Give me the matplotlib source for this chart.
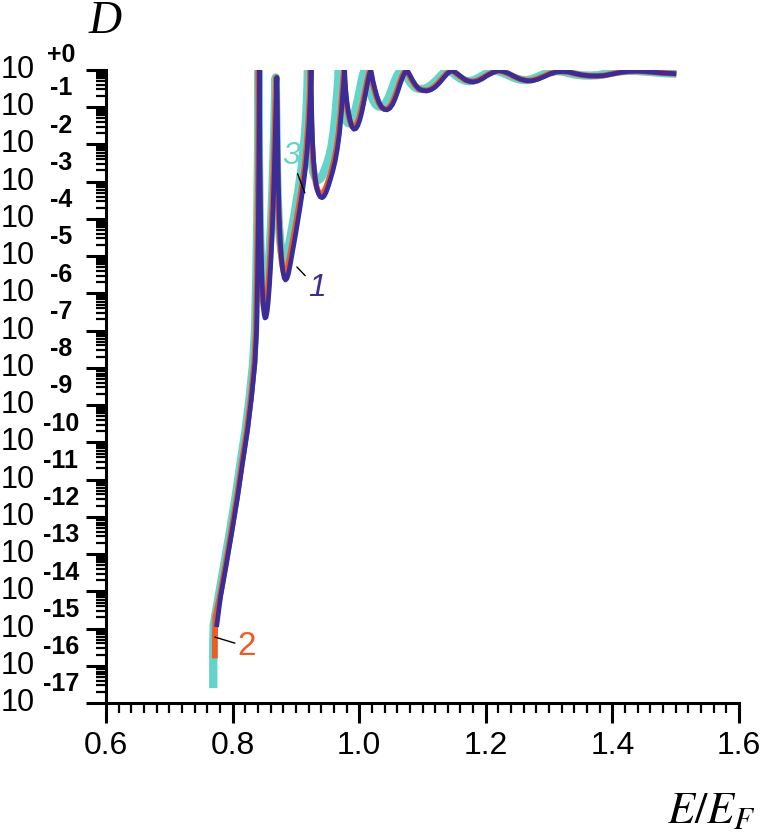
import numpy as np
import matplotlib
matplotlib.use("Agg")
import matplotlib.pyplot as plt
from matplotlib.ticker import MultipleLocator, FixedLocator, NullFormatter, FormatStrFormatter
from matplotlib.transforms import blended_transform_factory

plt.rcParams['font.family'] = ['Liberation Sans', 'DejaVu Sans']

# ---------------- data: (E/E_F, log10 D) pairs ----------------
# curve 1 (dark blue)
curve1 = np.array([
    (0.7747, -14.96), (0.7810, -14.15), (0.7905, -13.24), (0.7994, -12.35), (0.8079, -11.47), (0.8158, -10.55),
    (0.8237, -9.67), (0.8300, -8.78), (0.8353, -7.87), (0.8379, -6.98), (0.8395, -5.5), (0.8407, -4.0),
    (0.8415, -2.5), (0.8420, -1.2), (0.8422, 0.0),
    (0.8426, -1.2), (0.8432, -2.5), (0.8441, -3.8), (0.8452, -4.9), (0.8466, -5.7), (0.8482, -6.25), (0.8497, -6.55),
    (0.8512, -6.66), (0.8528, -6.64), (0.8545, -6.5), (0.8563, -6.22), (0.8582, -5.8), (0.8602, -5.2), (0.8622, -4.5),
    (0.8640, -3.7), (0.8657, -2.8), (0.8672, -1.9), (0.8685, -1.0), (0.8695, -0.4), (0.8700, -0.2),
    (0.8705, -0.8), (0.8712, -1.9), (0.8722, -3.0), (0.8736, -3.95), (0.8753, -4.6), (0.8773, -5.1), (0.8795, -5.42),
    (0.8815, -5.58), (0.8835, -5.64), (0.8858, -5.6), (0.8882, -5.47), (0.8910, -5.23), (0.8940, -4.95), (0.8970, -4.66),
    (0.9000, -4.37), (0.9030, -4.06), (0.9060, -3.75), (0.9090, -3.42), (0.9120, -3.06), (0.9150, -2.65), (0.9178, -2.15),
    (0.9205, -1.5), (0.9225, -0.8), (0.9236, -0.3), (0.9240, 0.0),
    (0.9244, -0.6), (0.9252, -1.35), (0.9264, -1.95), (0.9280, -2.45), (0.9300, -2.85), (0.9325, -3.14), (0.9355, -3.32),
    (0.9385, -3.41), (0.9415, -3.43), (0.9445, -3.39), (0.9478, -3.28), (0.9512, -3.12), (0.9548, -2.92), (0.9585, -2.7),
    (0.9620, -2.45), (0.9655, -2.12), (0.9688, -1.7), (0.9718, -1.15), (0.9742, -0.6), (0.9760, -0.2), (0.9770, 0.0),
    (0.9776, -0.25), (0.9788, -0.55), (0.9805, -0.85), (0.9828, -1.12), (0.9855, -1.35), (0.9885, -1.52), (0.9915, -1.59),
    (0.9945, -1.58), (0.9975, -1.5), (1.0008, -1.35), (1.0040, -1.14), (1.0072, -0.88), (1.0105, -0.59), (1.0135, -0.32),
    (1.0162, -0.11), (1.0183, 0.0),
    (1.0196, -0.1), (1.0218, -0.3), (1.0246, -0.5), (1.0278, -0.7), (1.0315, -0.88), (1.0355, -1.0), (1.0398, -1.06),
    (1.0440, -1.07), (1.0482, -1.03), (1.0525, -0.93), (1.0568, -0.77), (1.0610, -0.57), (1.0652, -0.35), (1.0692, -0.17),
    (1.0725, -0.06), (1.0750, -0.01),
    (1.0772, -0.05), (1.0805, -0.15), (1.0845, -0.28), (1.0892, -0.41), (1.0945, -0.51), (1.1005, -0.55), (1.1070, -0.56),
    (1.1135, -0.53), (1.1200, -0.46), (1.1265, -0.35), (1.1330, -0.22), (1.1390, -0.1), (1.1435, -0.04), (1.1465, -0.02),
    (1.1500, -0.04), (1.1550, -0.1), (1.1610, -0.18), (1.1680, -0.27), (1.1750, -0.31), (1.1810, -0.32), (1.1880, -0.29),
    (1.1950, -0.23), (1.2030, -0.14), (1.2110, -0.07), (1.2170, -0.03), (1.2220, -0.02),
    (1.2280, -0.04), (1.2360, -0.09), (1.2450, -0.17), (1.2550, -0.25), (1.2650, -0.29), (1.2730, -0.29), (1.2820, -0.25),
    (1.2920, -0.18), (1.3020, -0.1), (1.3120, -0.05), (1.3210, -0.04),
    (1.3300, -0.05), (1.3400, -0.09), (1.3510, -0.13), (1.3630, -0.155), (1.3750, -0.16), (1.3870, -0.15), (1.3990, -0.11),
    (1.4110, -0.07), (1.4240, -0.04), (1.4380, -0.03), (1.4520, -0.04), (1.4660, -0.06), (1.4800, -0.08), (1.4900, -0.09),
    (1.5010, -0.10)])

# curve 2 (orange)
curve2 = np.array([
    (0.7720, -15.8), (0.7720, -15.2), (0.7728, -14.7), (0.7797, -14.15), (0.7893, -13.24), (0.7982, -12.35),
    (0.8067, -11.47), (0.8146, -10.55), (0.8225, -9.67), (0.8289, -8.78), (0.8342, -7.87), (0.8368, -6.98),
    (0.8384, -5.5), (0.8396, -4.0), (0.8404, -2.5), (0.8409, -1.2), (0.8411, 0.0),
    (0.8415, -1.2), (0.8421, -2.5), (0.8430, -3.75), (0.8441, -4.8), (0.8455, -5.55), (0.8471, -6.05), (0.8486, -6.33),
    (0.8501, -6.45), (0.8517, -6.43), (0.8534, -6.3), (0.8552, -6.03), (0.8571, -5.62), (0.8591, -5.05), (0.8611, -4.38),
    (0.8629, -3.6), (0.8646, -2.72), (0.8661, -1.85), (0.8674, -0.98), (0.8684, -0.4), (0.8689, -0.2),
    (0.8694, -0.8), (0.8701, -1.85), (0.8711, -2.92), (0.8725, -3.85), (0.8742, -4.47), (0.8762, -4.95), (0.8784, -5.25),
    (0.8804, -5.4), (0.8824, -5.45), (0.8847, -5.41), (0.8871, -5.29), (0.8899, -5.06), (0.8929, -4.79), (0.8959, -4.51),
    (0.8989, -4.23), (0.9019, -3.93), (0.9049, -3.63), (0.9079, -3.31), (0.9109, -2.96), (0.9139, -2.57), (0.9167, -2.08),
    (0.9194, -1.45), (0.9214, -0.78), (0.9225, -0.3), (0.9229, 0.0),
    (0.9233, -0.6), (0.9241, -1.32), (0.9253, -1.9), (0.9269, -2.38), (0.9289, -2.77), (0.9314, -3.05), (0.9344, -3.23),
    (0.9374, -3.32), (0.9404, -3.34), (0.9434, -3.3), (0.9467, -3.19), (0.9501, -3.04), (0.9537, -2.85), (0.9574, -2.63),
    (0.9609, -2.38), (0.9644, -2.06), (0.9677, -1.65), (0.9707, -1.12), (0.9731, -0.58), (0.9749, -0.2), (0.9758, 0.0),
    (0.9764, -0.25), (0.9776, -0.54), (0.9793, -0.83), (0.9816, -1.09), (0.9843, -1.31), (0.9873, -1.47), (0.9903, -1.54),
    (0.9933, -1.53), (0.9963, -1.45), (0.9996, -1.31), (1.0028, -1.1), (1.0060, -0.85), (1.0093, -0.57), (1.0123, -0.31),
    (1.0150, -0.11), (1.0170, 0.0),
    (1.0183, -0.1), (1.0205, -0.3), (1.0233, -0.49), (1.0265, -0.69), (1.0302, -0.86), (1.0342, -0.98), (1.0385, -1.04),
    (1.0427, -1.05), (1.0469, -1.01), (1.0512, -0.91), (1.0555, -0.75), (1.0597, -0.56), (1.0639, -0.34), (1.0679, -0.16),
    (1.0712, -0.06), (1.0737, -0.01),
    (1.0759, -0.05), (1.0792, -0.15), (1.0832, -0.28), (1.0879, -0.4), (1.0932, -0.5), (1.0992, -0.54), (1.1057, -0.55),
    (1.1122, -0.52), (1.1187, -0.45), (1.1252, -0.34), (1.1317, -0.21), (1.1377, -0.1), (1.1422, -0.04), (1.1452, -0.02),
    (1.1487, -0.04), (1.1537, -0.1), (1.1597, -0.18), (1.1667, -0.26), (1.1737, -0.3), (1.1797, -0.31), (1.1867, -0.28),
    (1.1937, -0.22), (1.2017, -0.14), (1.2097, -0.07), (1.2157, -0.03), (1.2207, -0.02),
    (1.2267, -0.04), (1.2347, -0.09), (1.2437, -0.17), (1.2537, -0.24), (1.2637, -0.28), (1.2717, -0.28), (1.2807, -0.24),
    (1.2907, -0.17), (1.3007, -0.1), (1.3107, -0.05), (1.3197, -0.04),
    (1.3287, -0.05), (1.3387, -0.09), (1.3497, -0.13), (1.3617, -0.155), (1.3737, -0.16), (1.3857, -0.15), (1.3977, -0.11),
    (1.4097, -0.07), (1.4227, -0.04), (1.4367, -0.03), (1.4507, -0.04), (1.4647, -0.06), (1.4787, -0.08), (1.4897, -0.09),
    (1.5010, -0.10)])

# curve 3 (turquoise)
curve3 = np.array([
    (0.7695, -16.6), (0.7695, -15.4), (0.7702, -14.9), (0.7778, -14.15), (0.7873, -13.24), (0.7962, -12.35),
    (0.8047, -11.47), (0.8126, -10.55), (0.8205, -9.67), (0.8270, -8.78), (0.8325, -7.87), (0.8355, -6.98),
    (0.8375, -5.5), (0.8390, -4.0), (0.8400, -2.5), (0.8405, -1.2), (0.8407, 0.0),
    (0.8411, -1.2), (0.8417, -2.45), (0.8426, -3.6), (0.8437, -4.55), (0.8451, -5.25), (0.8467, -5.7), (0.8482, -5.95),
    (0.8497, -6.07), (0.8513, -6.06), (0.8530, -5.94), (0.8548, -5.7), (0.8567, -5.32), (0.8587, -4.8), (0.8606, -4.18),
    (0.8624, -3.45), (0.8640, -2.62), (0.8655, -1.8), (0.8667, -0.98), (0.8676, -0.4), (0.8681, -0.2),
    (0.8686, -0.8), (0.8693, -1.8), (0.8703, -2.8), (0.8717, -3.65), (0.8733, -4.2), (0.8753, -4.62), (0.8775, -4.9),
    (0.8795, -5.05), (0.8815, -5.1), (0.8838, -5.06), (0.8862, -4.94), (0.8889, -4.72), (0.8918, -4.46), (0.8947, -4.18),
    (0.8976, -3.9), (0.9005, -3.6), (0.9034, -3.29), (0.9063, -2.96), (0.9092, -2.6), (0.9120, -2.18), (0.9145, -1.7),
    (0.9166, -1.15), (0.9180, -0.6), (0.9188, -0.2), (0.9191, 0.0),
    (0.9195, -0.5), (0.9203, -1.15), (0.9215, -1.7), (0.9231, -2.15), (0.9251, -2.5), (0.9276, -2.75), (0.9305, -2.89),
    (0.9333, -2.95), (0.9362, -2.95), (0.9392, -2.91), (0.9425, -2.81), (0.9460, -2.66), (0.9495, -2.5), (0.9530, -2.3),
    (0.9563, -2.04), (0.9593, -1.7), (0.9621, -1.28), (0.9646, -0.78), (0.9665, -0.35), (0.9678, 0.0),
    (0.9685, -0.22), (0.9697, -0.48), (0.9714, -0.76), (0.9736, -1.01), (0.9763, -1.22), (0.9792, -1.36), (0.9822, -1.43),
    (0.9852, -1.43), (0.9882, -1.37), (0.9913, -1.24), (0.9945, -1.05), (0.9977, -0.81), (1.0008, -0.55), (1.0037, -0.3),
    (1.0065, -0.1), (1.0088, 0.0),
    (1.0101, -0.09), (1.0123, -0.27), (1.0151, -0.46), (1.0183, -0.65), (1.0220, -0.81), (1.0260, -0.93), (1.0303, -0.98),
    (1.0345, -0.99), (1.0387, -0.95), (1.0430, -0.86), (1.0473, -0.71), (1.0515, -0.52), (1.0557, -0.32), (1.0597, -0.16),
    (1.0632, -0.06), (1.0685, -0.01),
    (1.0707, -0.05), (1.0740, -0.14), (1.0780, -0.26), (1.0827, -0.38), (1.0880, -0.47), (1.0940, -0.51), (1.1005, -0.51),
    (1.1070, -0.48), (1.1135, -0.41), (1.1200, -0.31), (1.1265, -0.2), (1.1325, -0.09), (1.1370, -0.04), (1.1400, -0.02),
    (1.1435, -0.04), (1.1485, -0.09), (1.1545, -0.17), (1.1615, -0.25), (1.1685, -0.29), (1.1745, -0.3), (1.1815, -0.27),
    (1.1885, -0.21), (1.1965, -0.13), (1.2045, -0.06), (1.2105, -0.03), (1.2150, -0.02),
    (1.2210, -0.04), (1.2290, -0.09), (1.2380, -0.16), (1.2480, -0.23), (1.2580, -0.27), (1.2660, -0.27), (1.2750, -0.23),
    (1.2850, -0.16), (1.2950, -0.09), (1.3040, -0.05), (1.3110, -0.03),
    (1.3200, -0.04), (1.3300, -0.08), (1.3410, -0.12), (1.3530, -0.145), (1.3650, -0.15), (1.3770, -0.14), (1.3890, -0.1),
    (1.4010, -0.06), (1.4140, -0.03), (1.4280, -0.02), (1.4420, -0.03), (1.4570, -0.05), (1.4720, -0.07), (1.4870, -0.09),
    (1.5010, -0.10)])

y_exponents = list(range(0, -18, -1))
y_sup_labels = ['+0'] + [str(k) for k in range(-1, -18, -1)]
x_ticks = [0.6, 0.8, 1.0, 1.2, 1.4, 1.6]
curve_labels = ['1', '2', '3']

col1 = '#3a2d98'
col2 = '#f05a24'
col3 = '#64d3ca'

# ---------------- figure ----------------
W, H = 764, 838
fig = plt.figure(figsize=(W / 100, H / 100), dpi=100)
ax = fig.add_axes([106 / W, 1 - 703 / H, 633 / W, 633 / H])
ax.set_yscale('log')
ax.set_xlim(0.6, 1.6)
ax.set_ylim(1e-17, 1.0)

for pts, col, lw in [(curve3, col3, 6.0), (curve2, col2, 4.2), (curve1, col1, 3.4)]:
    ax.plot(pts[:, 0], 10.0 ** pts[:, 1], color=col, lw=lw,
            solid_joinstyle='round', solid_capstyle='butt')

for s in ['top', 'right']:
    ax.spines[s].set_visible(False)
for s in ['left', 'bottom']:
    ax.spines[s].set_linewidth(2.2)

ax.yaxis.set_major_locator(FixedLocator([10.0 ** k for k in y_exponents]))
ax.yaxis.set_minor_locator(FixedLocator([m * 10.0 ** k for k in range(-17, 0) for m in range(2, 10)]))
ax.yaxis.set_major_formatter(NullFormatter())
ax.yaxis.set_minor_formatter(NullFormatter())

ax.xaxis.set_major_locator(FixedLocator(x_ticks))
ax.xaxis.set_minor_locator(MultipleLocator(0.02))
ax.xaxis.set_major_formatter(FormatStrFormatter('%.1f'))

ax.tick_params(which='major', direction='out', length=14.4, width=2.2, color='black')
ax.tick_params(which='minor', direction='out', length=7.2, width=1.6, color='black')
ax.tick_params(axis='x', which='major', labelsize=23, pad=6)

# y tick labels: "10" with a bold superscript exponent
tr = blended_transform_factory(fig.transFigure, ax.transData)
for k, sup in zip(y_exponents, y_sup_labels):
    ax.text(1 / W, 10.0 ** k, '10', transform=tr, ha='left', va='center',
            fontsize=22, clip_on=False)
    ax.annotate(sup, xy=(61 / W, 10.0 ** k), xycoords=tr, xytext=(0, 11 if k == 0 else 13.5),
                textcoords='offset points', ha='center', va='center',
                fontsize=18, fontweight='bold', annotation_clip=False)

# axis labels
fig.text(105 / W, 1 - 33 / H, 'D', family='Liberation Serif', style='italic',
         fontsize=33, ha='center', va='baseline')
fig.text(711 / W, 1 - 823 / H, r'$E/E_F$', math_fontfamily='stix',
         fontsize=32, ha='center', va='baseline')

# curve labels with leader lines
arrow = dict(arrowstyle='-', color='black', lw=1.0, shrinkA=0, shrinkB=0)
ax.annotate(curve_labels[2], xy=(0.9141, 10 ** -3.30), xytext=(0.8920, 10 ** -2.31),
            fontsize=23, color=col3, style='italic', ha='center', va='center', arrowprops=arrow)
ax.annotate(curve_labels[0], xy=(0.9015, 10 ** -5.29), xytext=(0.9331, 10 ** -5.85),
            fontsize=23, color=col1, style='italic', ha='center', va='center', arrowprops=arrow)
ax.annotate(curve_labels[1], xy=(0.7721, 10 ** -15.23), xytext=(0.8226, 10 ** -15.49),
            fontsize=24, color=col2, ha='center', va='center', arrowprops=arrow)

fig.savefig('out.png', dpi=100)
